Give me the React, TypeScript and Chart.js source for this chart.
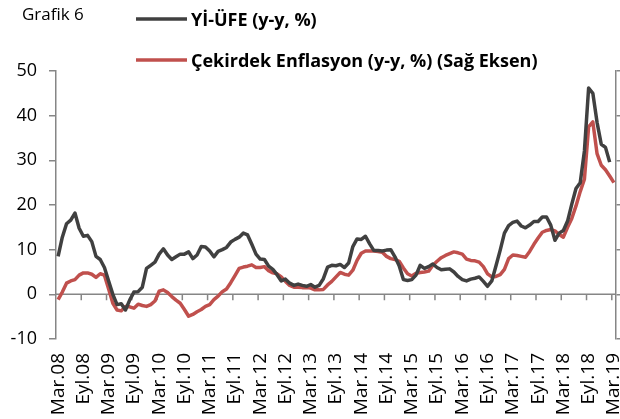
import React, { useEffect, useRef } from 'react';
import { Chart, registerables } from 'chart.js';

Chart.register(...registerables);

const chartTitle = 'Grafik 6';
const seriesGrayLabel = 'Yİ-ÜFE (y-y, %)';
const seriesRedLabel = 'Çekirdek Enflasyon (y-y, %) (Sağ Eksen)';

const tickLabels = [
  'Mar.08', 'Eyl.08', 'Mar.09', 'Eyl.09', 'Mar.10', 'Eyl.10', 'Mar.11', 'Eyl.11',
  'Mar.12', 'Eyl.12', 'Mar.13', 'Eyl.13', 'Mar.14', 'Eyl.14', 'Mar.15', 'Eyl.15',
  'Mar.16', 'Eyl.16', 'Mar.17', 'Eyl.17', 'Mar.18', 'Eyl.18', 'Mar.19',
];

// Monthly, Mar.08 .. Feb.19
const yiUfe = [
  8.5, 12.8, 15.8, 16.6, 18.2, 14.8, 13.0, 13.2, 11.8, 8.5, 7.8, 6.0,
  3.0, 0.0, -2.3, -2.1, -3.5, -1.3, 0.5, 0.6, 1.6, 5.8, 6.5, 7.2,
  9.0, 10.2, 8.8, 7.8, 8.4, 9.0, 9.0, 9.5, 8.0, 8.8, 10.7, 10.6,
  9.7, 8.4, 9.6, 10.0, 10.5, 11.7, 12.3, 12.8, 13.7, 13.3, 11.2, 9.0,
  7.9, 7.8, 6.3, 5.6, 4.4, 3.0, 3.4, 2.5, 2.0, 2.3, 2.0, 1.8,
  2.2, 1.6, 2.0, 3.5, 6.1, 6.5, 6.4, 6.7, 6.0, 7.0, 10.7, 12.4,
  12.3, 13.0, 11.3, 9.8, 9.8, 9.7, 9.9, 10.0, 8.4, 6.4, 3.3, 3.1,
  3.3, 4.3, 6.5, 5.8, 6.2, 6.8, 6.0, 5.5, 5.6, 5.7, 5.0, 4.0,
  3.3, 3.0, 3.4, 3.6, 3.9, 2.9, 1.8, 3.0, 6.4, 9.9, 13.7, 15.4,
  16.1, 16.4, 15.3, 14.9, 15.5, 16.3, 16.3, 17.3, 17.3, 15.5, 12.1, 13.7,
  14.3, 16.4, 20.2, 23.7, 25.0, 32.1, 46.2, 45.0, 38.5, 33.6, 32.9, 29.6,
];

// Monthly, Mar.08 .. Mar.19
const cekirdek = [
  -1.2, 0.5, 2.5, 3.0, 3.3, 4.3, 4.8, 4.8, 4.5, 3.8, 4.6, 4.3,
  1.2, -2.0, -3.5, -3.7, -2.7, -2.8, -3.1, -2.2, -2.5, -2.7, -2.3, -1.5,
  0.7, 1.0, 0.4, -0.5, -1.3, -2.0, -3.4, -4.9, -4.5, -3.9, -3.4, -2.7,
  -2.3, -1.2, -0.4, 0.6, 1.2, 2.6, 4.2, 5.8, 6.1, 6.3, 6.6, 6.0,
  6.0, 6.2, 5.3, 4.8, 4.6, 3.9, 2.9, 2.0, 1.6, 1.6, 1.5, 1.5,
  1.4, 1.0, 1.0, 1.1, 2.1, 2.9, 3.9, 4.9, 4.5, 4.3, 5.4, 7.6,
  9.2, 9.7, 9.7, 9.7, 9.6, 9.4, 8.5, 8.0, 7.8, 7.4, 5.9, 4.6,
  4.1, 4.7, 4.9, 5.0, 5.2, 6.5, 7.4, 8.2, 8.7, 9.1, 9.5, 9.3,
  9.0, 7.9, 7.6, 7.5, 7.2, 6.2, 4.6, 3.9, 4.0, 4.4, 5.6, 8.0,
  8.8, 8.7, 8.5, 8.3, 9.6, 11.2, 12.6, 13.9, 14.3, 14.5, 14.2, 13.4,
  12.8, 15.0, 17.0, 19.8, 23.0, 25.8, 37.5, 38.6, 31.5, 28.9, 27.9, 26.5,
  25.0,
];

const yMin = -10;
const yMax = 50;
const yStep = 10;
const monthsPerTick = 6;

const categories: string[] = [];
for (let k = 0; k < tickLabels.length; k++) {
  categories.push(tickLabels[k]);
  if (k < tickLabels.length - 1) {
    for (let m = 1; m < monthsPerTick; m++) categories.push('');
  }
}

const AXIS_COLOR = '#868686';
const TEXT_COLOR = '#000000';
const FONT = '"Open Sans"';

const zeroAxisPlugin = {
  id: 'zeroAxis',
  beforeDatasetsDraw(chart: any) {
    const xs = chart.scales.x;
    const ys = chart.scales.y;
    const ctx = chart.ctx;
    const y0 = ys.getPixelForValue(0);
    const half = (xs.getPixelForValue(1) - xs.getPixelForValue(0)) / 2;
    ctx.save();
    ctx.strokeStyle = AXIS_COLOR;
    ctx.lineWidth = 1.5;
    ctx.beginPath();
    ctx.moveTo(chart.chartArea.left, y0);
    ctx.lineTo(chart.chartArea.right, y0);
    for (let i = monthsPerTick; i < categories.length; i += monthsPerTick) {
      const px = xs.getPixelForValue(i) - half;
      ctx.moveTo(px, y0);
      ctx.lineTo(px, y0 + 6);
    }
    ctx.stroke();
    ctx.restore();
  },
};

const headerPlugin = {
  id: 'header',
  afterDraw(chart: any) {
    const ctx = chart.ctx;
    ctx.save();
    ctx.fillStyle = TEXT_COLOR;
    ctx.textBaseline = 'alphabetic';
    ctx.textAlign = 'left';
    ctx.font = `17px ${FONT}`;
    ctx.fillText(chartTitle, 22, 20);
    const lineRows = [19, 60];
    const textRows = [26, 67];
    chart.data.datasets.forEach((ds: any, k: number) => {
      ctx.strokeStyle = ds.borderColor;
      ctx.lineWidth = 3.5;
      ctx.beginPath();
      ctx.moveTo(136, lineRows[k]);
      ctx.lineTo(187, lineRows[k]);
      ctx.stroke();
      ctx.font = `bold 18px ${FONT}`;
      ctx.fillStyle = TEXT_COLOR;
      ctx.fillText(ds.label, 191, textRows[k]);
    });
    ctx.restore();
  },
};

export default function App() {
  const canvasRef = useRef<HTMLCanvasElement | null>(null);

  useEffect(() => {
    document.body.style.margin = '0';
    const canvas = canvasRef.current;
    if (!canvas) return;
    const chart = new Chart(canvas, {
      type: 'line',
      data: {
        labels: categories,
        datasets: [
          {
            label: seriesGrayLabel,
            data: yiUfe,
            borderColor: '#404040',
            backgroundColor: '#404040',
            borderWidth: 3.5,
            pointRadius: 0,
            tension: 0,
            yAxisID: 'y',
            borderJoinStyle: 'round',
          },
          {
            label: seriesRedLabel,
            data: cekirdek,
            borderColor: '#C0504D',
            backgroundColor: '#C0504D',
            borderWidth: 3.5,
            pointRadius: 0,
            tension: 0,
            yAxisID: 'y2',
            borderJoinStyle: 'round',
          },
        ],
      },
      options: {
        responsive: false,
        animation: false,
        layout: { padding: { top: 71, left: 0, right: 0, bottom: 0 } },
        plugins: {
          legend: { display: false },
          tooltip: { enabled: false },
        },
        scales: {
          x: {
            type: 'category',
            offset: true,
            grid: { display: false, drawTicks: false },
            border: { display: false },
            ticks: {
              autoSkip: false,
              maxRotation: 90,
              minRotation: 90,
              padding: 14,
              color: TEXT_COLOR,
              font: { family: FONT, size: 19 },
            },
            afterFit(scale: any) {
              scale.height = 80;
              scale.paddingLeft = 0;
              scale.paddingRight = 0;
            },
          },
          y: {
            position: 'left',
            min: yMin,
            max: yMax,
            ticks: {
              stepSize: yStep,
              padding: 12,
              color: TEXT_COLOR,
              font: { family: FONT, size: 18 },
            },
            grid: {
              drawOnChartArea: false,
              drawTicks: true,
              tickLength: 7,
              color: AXIS_COLOR,
              lineWidth: 1.5,
            },
            border: { display: true, color: AXIS_COLOR, width: 1.5 },
            afterFit(scale: any) {
              scale.width = 56;
              scale.paddingTop = 0;
              scale.paddingBottom = 0;
            },
          },
          y2: {
            position: 'right',
            min: yMin,
            max: yMax,
            ticks: { stepSize: yStep, display: false },
            grid: {
              drawOnChartArea: false,
              drawTicks: true,
              tickLength: 4,
              color: AXIS_COLOR,
              lineWidth: 1.5,
            },
            border: { display: true, color: AXIS_COLOR, width: 1.5 },
            afterFit(scale: any) {
              scale.width = 4;
              scale.paddingTop = 0;
              scale.paddingBottom = 0;
            },
          },
        },
      },
      plugins: [zeroAxisPlugin, headerPlugin],
    } as any);
    return () => chart.destroy();
  }, []);

  return (
    <div style={{ width: 620, height: 419, background: '#ffffff' }}>
      <canvas ref={canvasRef} width={620} height={419} style={{ display: 'block' }} />
    </div>
  );
}
